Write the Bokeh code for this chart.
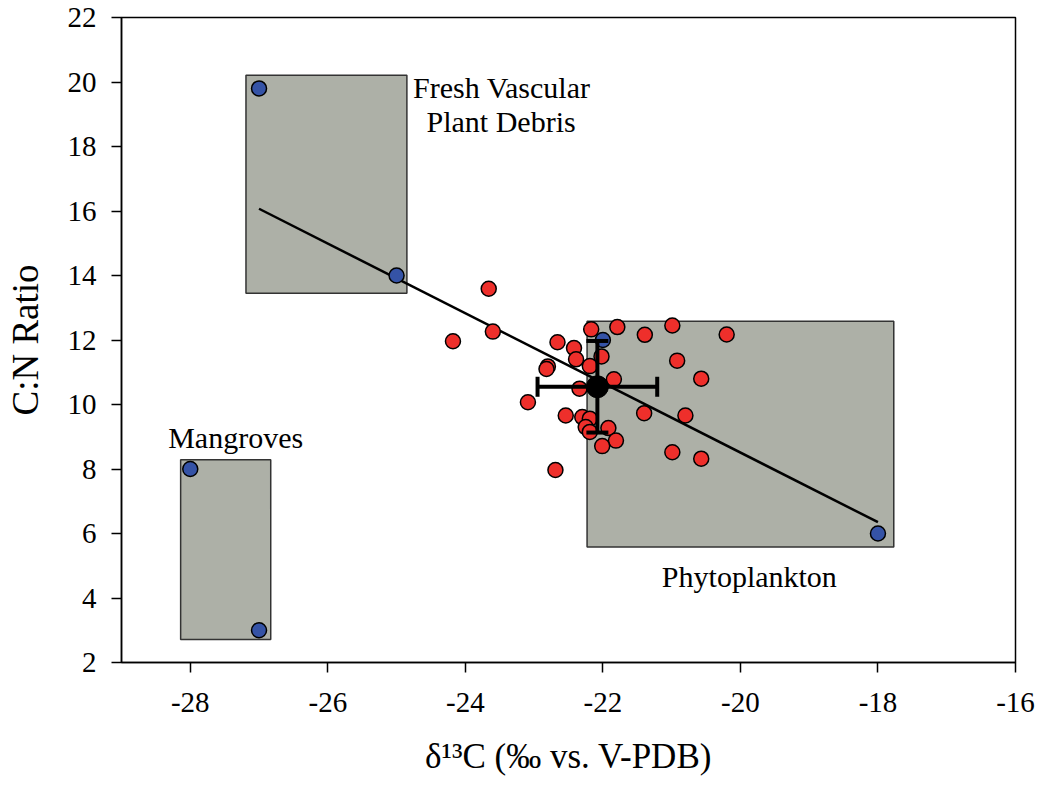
import math
from bokeh.plotting import figure
from bokeh.models import Range1d, FixedTicker, CustomJSTickFormatter
from bokeh.embed import file_html
from bokeh.resources import INLINE
from bokeh.core.properties import value

# ---- data ----
red_x = [-23.66, -23.60, -24.18, -22.66, -22.42, -22.39, -22.17, -21.79, -21.39, -20.99,
         -20.20, -22.02, -22.19, -22.80, -22.82, -20.92, -20.57, -21.84, -22.34, -23.09,
         -21.40, -20.80, -22.54, -22.30, -22.19, -22.25, -22.19, -21.92, -21.81, -22.01,
         -20.99, -20.57, -22.69]
red_y = [13.59, 12.26, 11.96, 11.93, 11.75, 11.40, 12.33, 12.40, 12.16, 12.45,
         12.17, 11.49, 11.19, 11.18, 11.10, 11.36, 10.80, 10.78, 10.49, 10.07,
         9.73, 9.66, 9.66, 9.61, 9.56, 9.30, 9.15, 9.27, 8.88, 8.71,
         8.52, 8.32, 7.97]

blue_x = [-27.0, -25.0, -28.0, -27.0, -18.0, -22.0]
blue_y = [19.8, 14.0, 8.0, 3.0, 6.0, 12.0]

box_names = ["Fresh Vascular Plant Debris", "Mangroves", "Phytoplankton"]
box_left = [-27.19, -28.14, -22.23]
box_right = [-24.85, -26.83, -17.77]
box_top = [20.21, 8.29, 12.58]
box_bottom = [13.45, 2.71, 5.58]

fit_x = [-27.0, -18.0]
fit_y = [16.07, 6.35]

mean_x = [-22.08]
mean_y = [10.55]
sd_x = [0.87]
sd_y = [1.42]

x_ticks = [-28, -26, -24, -22, -20, -18, -16]
y_ticks = [2, 4, 6, 8, 10, 12, 14, 16, 18, 20, 22]

label_texts = ["Fresh Vascular", "Plant Debris", "Mangroves", "Phytoplankton"]
label_x = [-23.47, -23.48, -27.34, -19.87]
label_y = [19.84, 18.77, 8.97, 4.67]

FONT = "Liberation Serif"

p = figure(width=1038, height=787, output_backend="svg", toolbar_location=None,
           x_range=Range1d(-29, -16), y_range=Range1d(2, 22),
           min_border_left=121, min_border_right=23, min_border_top=17, min_border_bottom=125)
p.background_fill_color = "white"
p.border_fill_color = "white"
p.grid.visible = False
p.outline_line_color = "black"
p.outline_line_width = 1.5

for ax in (p.xaxis[0], p.yaxis[0]):
    ax.axis_line_width = 1.5
    ax.axis_line_color = "black"
    ax.major_tick_in = 0
    ax.major_tick_out = 10
    ax.major_tick_line_width = 1.5
    ax.minor_tick_line_color = None
    ax.major_label_text_font = FONT
    ax.major_label_text_font_size = "29px"
    ax.major_label_text_color = "black"
    ax.major_label_standoff = 15
    ax.axis_label_text_font = FONT
    ax.axis_label_text_font_style = "normal"
    ax.axis_label_text_color = "black"
    ax.formatter = CustomJSTickFormatter(code="return tick.toString();")

p.xaxis.ticker = FixedTicker(ticks=x_ticks)
p.yaxis.ticker = FixedTicker(ticks=y_ticks)
p.xaxis.major_label_standoff = 20
p.xaxis.axis_label = "δ¹³C (‰ vs. V-PDB)"
p.yaxis.axis_label = "C:N Ratio"
p.xaxis.axis_label_text_font_size = "35px"
p.yaxis.axis_label_text_font_size = "37px"
p.xaxis.axis_label_standoff = 22
p.yaxis.axis_label_standoff = 19

# source boxes
p.quad(left=box_left, right=box_right, top=box_top, bottom=box_bottom,
       fill_color="#ADB0A7", line_color="#333333", line_width=1.5)

# regression line
p.line(fit_x, fit_y, line_color="black", line_width=2.5)

# sample points
p.scatter(red_x, red_y, size=15, fill_color="#EE2F2B", line_color="black", line_width=1.5)
p.scatter(blue_x, blue_y, size=15, fill_color="#3553A6", line_color="black", line_width=1.5)

# mean with error bars
xl = [m - s for m, s in zip(mean_x, sd_x)]
xu = [m + s for m, s in zip(mean_x, sd_x)]
yl = [m - s for m, s in zip(mean_y, sd_y)]
yu = [m + s for m, s in zip(mean_y, sd_y)]
p.segment(x0=xl, y0=mean_y, x1=xu, y1=mean_y, line_color="black", line_width=4)
p.segment(x0=mean_x, y0=yl, x1=mean_x, y1=yu, line_color="black", line_width=4)
p.scatter(xl + xu, mean_y + mean_y, marker="dash", size=20, angle=math.pi / 2,
          line_color="black", line_width=4)
p.scatter(mean_x + mean_x, yl + yu, marker="dash", size=22,
          line_color="black", line_width=4)
p.scatter(mean_x, mean_y, size=22, fill_color="black", line_color="black")

# annotations
p.text(x=label_x, y=label_y, text=label_texts, text_font=value(FONT),
       text_font_size="30px", text_align="center", text_baseline="alphabetic",
       text_color="black")

open("out.html", "w").write(file_html(p, INLINE))
